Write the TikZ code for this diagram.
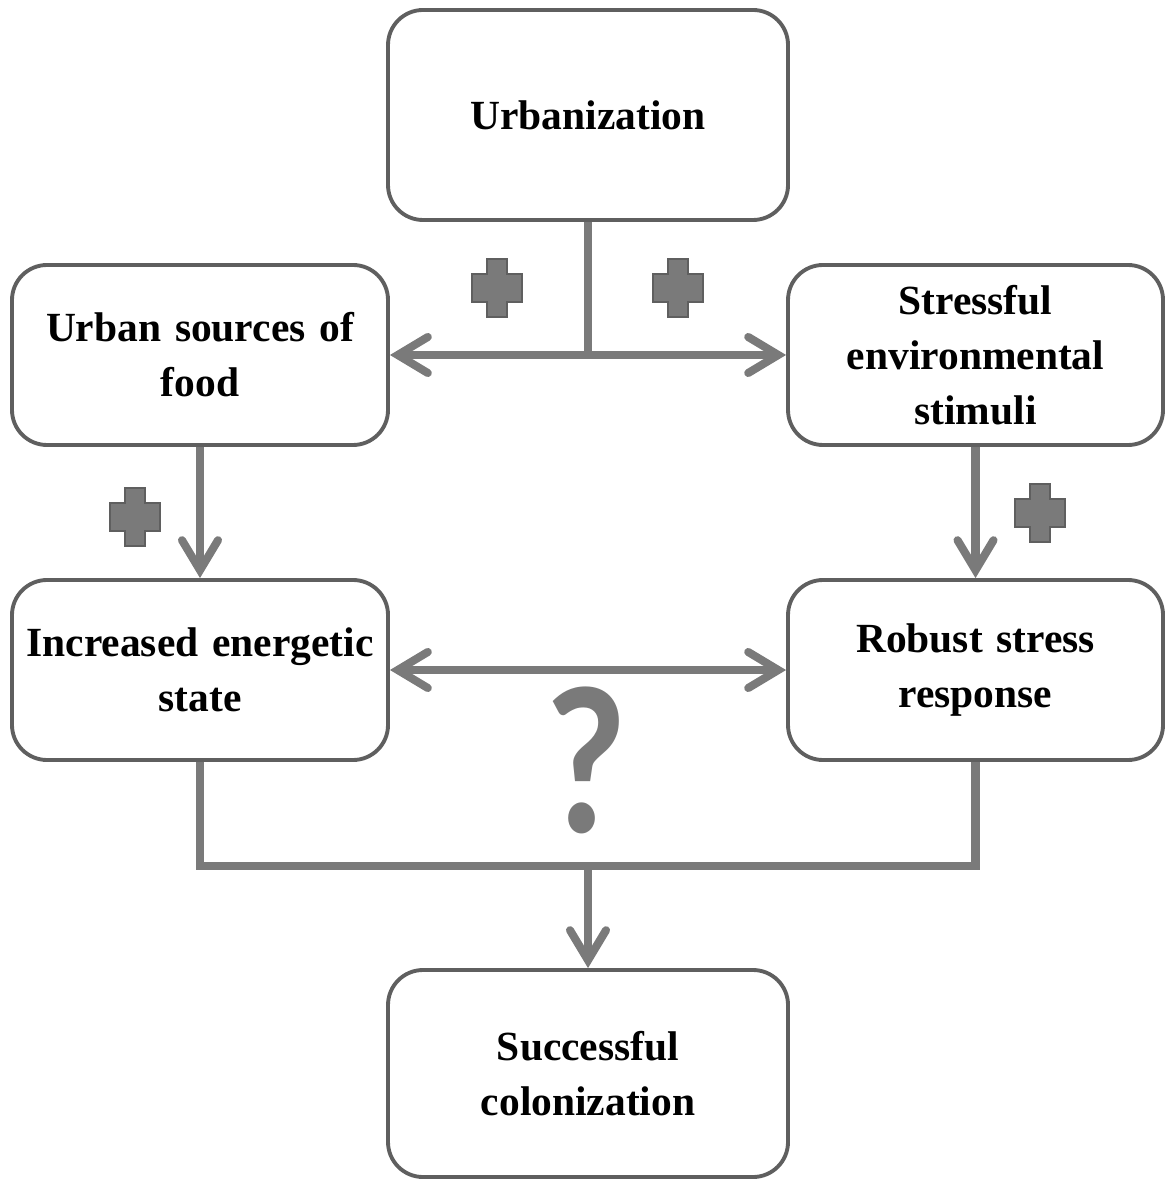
\documentclass[tikz,border=0pt]{standalone}
\usepackage{fontspec}
\setmainfont{Liberation Serif}
\newfontfamily\qfont{Carlito}
\usetikzlibrary{arrows.meta,positioning}
\definecolor{linegray}{HTML}{7A7A7A}
\definecolor{edgegray}{HTML}{5F5F5F}
\tikzset{
  box/.style={draw=edgegray,line width=1.1pt,rounded corners=0.35cm,align=center,
    inner sep=0pt,text width=3.6cm,font=\fontsize{11.8}{15.6}\selectfont\bfseries},
  link/.style={draw=linegray,line width=2.3pt},
  tip/.style={-{Straight Barb[length=3mm,width=3.6mm,line cap=round]}},
  twotip/.style={{Straight Barb[length=3mm,width=3.6mm,line cap=round]}-{Straight Barb[length=3mm,width=3.6mm,line cap=round]}},
  plusmark/.pic={
    \filldraw[fill=linegray,draw=edgegray,line width=0.8pt]
      (-0.1,0.29)--(0.1,0.29)--(0.1,0.14)--(0.25,0.14)--(0.25,-0.14)--(0.1,-0.14)
      --(0.1,-0.29)--(-0.1,-0.29)--(-0.1,-0.14)--(-0.25,-0.14)--(-0.25,0.14)--(-0.1,0.14)--cycle;
  }
}
\begin{document}
\begin{tikzpicture}
	\useasboundingbox (0,0) rectangle (11.66,-11.79);
	% boxes
	\node[box,minimum width=4cm,minimum height=2.1cm] (urb) at (5.88,-1.15) {Urbanization};
	\node[box,minimum width=3.76cm,minimum height=1.8cm] (food) at (2.0,-3.55) {Urban sources of\\food};
	\node[box,minimum width=3.75cm,minimum height=1.8cm] (stress) at (9.755,-3.55) {Stressful\\environmental\\stimuli};
	\node[box,minimum width=3.76cm,minimum height=1.8cm] (energy) at (2.0,-6.7) {Increased energetic\\state};
	\node[box,minimum width=3.75cm,minimum height=1.8cm] (resp) at (9.755,-6.7) {Robust stress\\response};
	\node[box,minimum width=4cm,minimum height=2.07cm] (col) at (5.88,-10.735) {Successful\\colonization};
	% connectors
	\coordinate (split) at (urb.south |- food.east);
	\coordinate (join) at (5.88,-8.66);
	\draw[link] (urb.south) -- (split);
	\draw[link,twotip] (food.east) -- (stress.west);
	\draw[link,tip] (food.south) -- (energy.north);
	\draw[link,tip] (stress.south) -- (resp.north);
	\draw[link,twotip] (energy.east) -- (resp.west);
	\draw[link] (energy.south) |- (resp.south |- join) -- (resp.south);
	\draw[link,tip] (join) -- (col.north);
	% marks
	\pic at (4.97,-2.88) {plusmark};
	\pic at (6.78,-2.88) {plusmark};
	\pic at (1.35,-5.17) {plusmark};
	\pic at (10.40,-5.13) {plusmark};
	\node[text=linegray,font=\qfont\bfseries\fontsize{60}{60}\selectfont,xscale=0.85] (qmark) at (5.86,-7.6) {?};
\end{tikzpicture}
\end{document}
